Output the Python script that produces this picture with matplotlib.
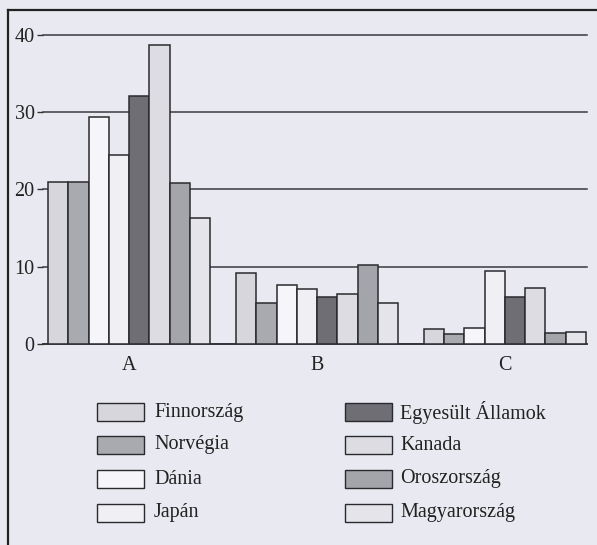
import matplotlib.pyplot as plt
import numpy as np
from matplotlib.lines import Line2D
from matplotlib.patches import Rectangle

# Data
groups = ["A", "B", "C"]
countries = ["Finnország", "Norvégia", "Dánia", "Japán",
             "Egyesült Államok", "Kanada", "Oroszország", "Magyarország"]
values_a = [21, 21, 29.4, 24.4, 32.1, 38.6, 20.8, 16.3]
values_b = [9.2, 5.3, 7.6, 7.05, 6.1, 6.45, 10.15, 5.3]
values_c = [2.0, 1.3, 2.1, 9.4, 6.05, 7.3, 1.45, 1.6]
colors = ["#d6d6dc", "#a9a9b0", "#f6f6fa", "#f0f0f4",
          "#6e6e74", "#dcdce2", "#a4a4ab", "#e4e4ea"]
yticks = [0, 10, 20, 30, 40]

bg = "#e9e9f1"
plt.rcParams["font.family"] = ["Liberation Serif", "DejaVu Serif"]

W, H = 597, 545
fig = plt.figure(figsize=(W / 100, H / 100), dpi=100, facecolor=bg)
ax = fig.add_axes([43 / W, 1 - 344 / H, (587 - 43) / W, (344 - 34.5) / H])
ax.set_facecolor(bg)

step = 9.28
data = np.array([values_a, values_b, values_c])
for g in range(len(groups)):
    x = g * step + np.arange(len(countries))
    ax.bar(x, data[g], width=1, align="edge", color=colors,
           edgecolor="#2a2a2e", linewidth=1.1, zorder=3)

ax.set_xlim(-0.25, 2 * step + 8 + 0.05)
ax.set_ylim(0, 40)
ax.set_yticks(yticks)
ax.set_yticklabels([str(t) for t in yticks], fontsize=14.5, color="#222")
ax.tick_params(axis="y", length=4, width=1, color="#333", pad=2)
ax.set_xticks([g * step + 4 for g in range(len(groups))])
ax.set_xticklabels(groups, fontsize=14.5, color="#222")
ax.tick_params(axis="x", length=0, pad=9)
for t in yticks:
    ax.axhline(t, color="#3a3a3e", linewidth=1.1, zorder=1, clip_on=False)
for s in ["top", "right", "left"]:
    ax.spines[s].set_visible(False)
ax.spines["bottom"].set_color("#2a2a2e")
ax.spines["bottom"].set_linewidth(1.1)

# Outer frame (top and left visible)
fig.add_artist(Line2D([8 / W, 1], [1 - 10 / H, 1 - 10 / H], color="#222", lw=1.6))
fig.add_artist(Line2D([8 / W, 8 / W], [0, 1 - 10 / H], color="#222", lw=1.6))

# Legend
col_x = [97, 345]
text_x = [154, 400]
row_y = [412, 445, 479, 513]
for i, name in enumerate(countries):
    c, r = divmod(i, 4)
    x0 = col_x[c]
    yc = row_y[r]
    fig.add_artist(Rectangle((x0 / W, 1 - (yc + 9) / H), 47 / W, 18 / H,
                             transform=fig.transFigure, facecolor=colors[i],
                             edgecolor="#2a2a2e", linewidth=1.0))
    fig.text(text_x[c] / W, 1 - yc / H, name, fontsize=14.5, color="#222",
             va="center", ha="left")

fig.savefig("out.png", dpi=100, facecolor=bg)
